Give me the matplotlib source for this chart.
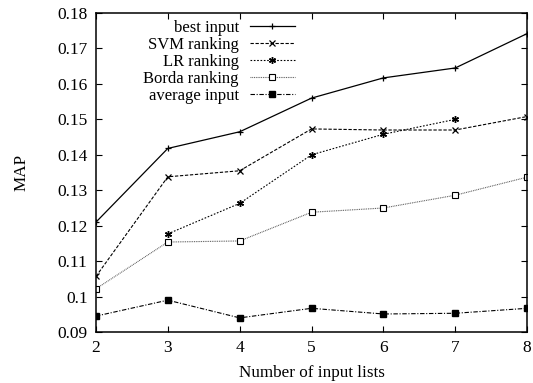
import numpy as np
import matplotlib.pyplot as plt
from matplotlib.ticker import FormatStrFormatter

plt.rcParams['font.family'] = ['Liberation Serif', 'DejaVu Serif']

# Data
n_lists = [2, 3, 4, 5, 6, 7, 8]
best_input = [0.1210, 0.1418, 0.1465, 0.1560, 0.1617, 0.1645, 0.1742]
svm_ranking = [0.1057, 0.1338, 0.1355, 0.1473, 0.1470, 0.1470, 0.1508]
lr_lists = [3, 4, 5, 6, 7]
lr_ranking = [0.1177, 0.1263, 0.1400, 0.1458, 0.1500]
borda_ranking = [0.1022, 0.1154, 0.1157, 0.1238, 0.1250, 0.1286, 0.1337]
average_input = [0.0945, 0.0990, 0.0940, 0.0967, 0.0951, 0.0953, 0.0967]

fig = plt.figure(figsize=(5.33, 3.83), dpi=100)
ax = fig.add_axes([0.180, 0.133, 0.809, 0.833])

ax.plot(n_lists, best_input, '-', color='black', lw=0.9, marker='+', ms=5, mew=0.9, label="best input")
ax.plot(n_lists, svm_ranking, '--', color='black', lw=0.8, dashes=(3, 1.5), marker='x', ms=4, mew=0.9, label="SVM ranking")
ax.plot(lr_lists, lr_ranking, ':', color='black', lw=0.8, dashes=(1.5, 1.5), marker=(6, 2, 0), ms=5, mew=1.0, label="LR ranking")
ax.plot(n_lists, borda_ranking, ':', color='#555555', lw=0.8, dashes=(0.8, 0.8), marker='s', ms=4.5, mfc='white', mec='black', mew=0.8, label="Borda ranking")
ax.plot(n_lists, average_input, '-.', color='black', lw=0.8, dashes=(4, 1.5, 1, 1.5), marker='s', ms=4.5, mfc='black', mec='black', label="average input")

ax.set_xlim(2, 8)
ax.set_ylim(0.09, 0.18)
ax.set_xticks(n_lists)
ax.set_yticks(np.arange(0.09, 0.1801, 0.01))
ax.yaxis.set_major_formatter(FormatStrFormatter('%g'))
ax.tick_params(direction='in', top=True, right=True, length=4, width=0.8, labelsize=12.5, pad=6)
for s in ax.spines.values():
    s.set_linewidth(1.1)

ax.set_xlabel("Number of input lists", fontsize=12.3, labelpad=6)
ax.set_ylabel("MAP", fontsize=12.3, labelpad=20)

leg = ax.legend(loc='upper right', bbox_to_anchor=(0.469, 0.99), frameon=False, markerfirst=False,
                alignment='right', fontsize=12, handlelength=2.7, handletextpad=0.66,
                labelspacing=0.07, borderpad=0.2, borderaxespad=0.0)

fig.savefig("out.png", dpi=100)
